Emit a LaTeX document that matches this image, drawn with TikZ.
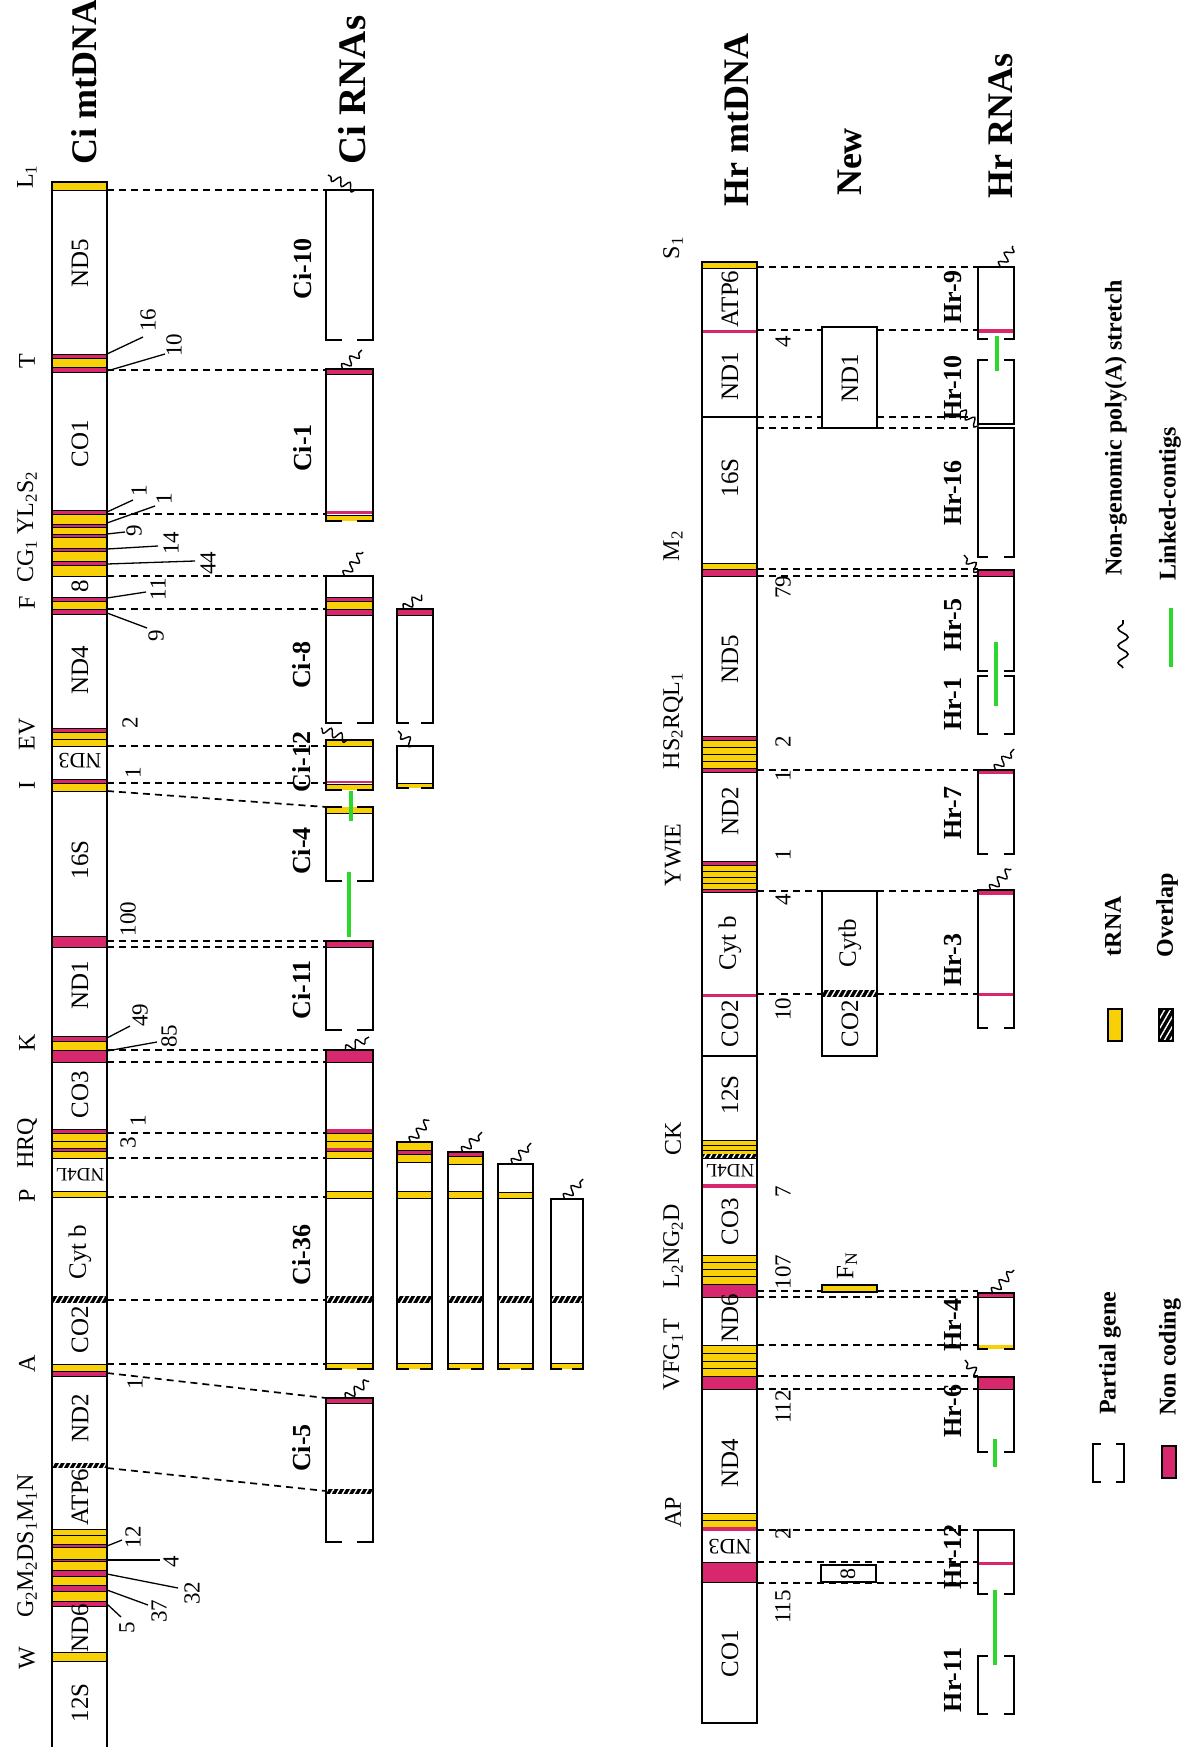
\documentclass[tikz,border=0pt]{standalone}
\usepackage{fontspec}
\setmainfont{Liberation Serif}
\usetikzlibrary{decorations.pathmorphing,patterns.meta}
\definecolor{ty}{RGB}{248,208,8}
\definecolor{nc}{RGB}{215,40,110}
\definecolor{lk}{RGB}{45,215,45}
\newcommand\zbd[5]{\filldraw[fill=#1,draw=black,line width=1pt] (#2,#4) rectangle (#3,#5);}
\newcommand\zbf[5]{\fill[#1] (#2,#4) rectangle (#3,#5);}
\newcommand\zht[4]{\fill[black] (#1,#3) rectangle (#2,#4);\fill[pattern={Lines[angle=60,distance=5pt,line width=1.4pt]},pattern color=white] (#1,#3) rectangle (#2,#4);}
\newcommand\zsd[4]{\draw[bx] (#1,#3) -- (#1,#4) (#2,#3) -- (#2,#4);}
\newcommand\zfe[3]{\draw[bx] (#1,#3) -- (#2,#3);}
\newcommand\zpe[4]{\draw[bx] (#1,#3) -- ++(#4,0) (#2,#3) -- ++(-#4,0);}
\newcommand\zdl[3]{\draw[dsh] (#1,#3) -- (#2,#3);}
\begin{document}
\begin{tikzpicture}[x=1pt,y=-1pt,
 gene/.style={font=\fontsize{25}{25}\selectfont, rotate=90, inner sep=0pt},
 geneinv/.style={font=\fontsize{22}{22}\selectfont, rotate=180, inner sep=0pt},
 trn/.style={font=\fontsize{24}{24}\selectfont, rotate=90, inner sep=0pt},
 num/.style={font=\fontsize{23}{23}\selectfont, rotate=90, inner sep=0pt},
 rna/.style={font=\bfseries\fontsize{26}{26}\selectfont, rotate=90, inner sep=0pt},
 ttl/.style={font=\bfseries\fontsize{36}{36}\selectfont, rotate=90, inner sep=0pt},
 leg/.style={font=\bfseries\fontsize{24}{24}\selectfont, rotate=90, inner sep=0pt},
 dsh/.style={dash pattern=on 7pt off 5pt, line width=1.7pt},
 ldr/.style={line width=1.3pt},
 bx/.style={line width=1.9pt, line cap=rect},
 pa/.style={decorate, decoration={snake, amplitude=4pt, segment length=11pt}, line width=1.4pt},
 lnk/.style={draw=lk, line width=4pt}]
\useasboundingbox (0,0) rectangle (1183,1747);
\clip (0,0) rectangle (1183,1747);
\fill[white] (0,0) rectangle (1183,1747);

% ================= Ci titles =================
\node[ttl] (tcimt) at (84,82) {Ci mtDNA};
\node[ttl,font=\bfseries\fontsize{39}{39}\selectfont] (tcirna) at (352,90) {Ci RNAs};

% ================= Ci dashed lines =================
\foreach \yy in {190,370,514,576,609,746,783,941,947,1050,1062,1133,1158,1197,1300,1364} {\zdl{107}{326}{\yy}}
\draw[dsh] (107,791) -- (326,807);
\draw[dsh] (107,1373) -- (326,1398);
\draw[dsh] (107,1468) -- (326,1491);

% ================= Ci mtDNA bar =================
\zbd{ty}{52}{107}{182}{191}
\zbd{nc}{52}{107}{354}{358}\zbd{ty}{52}{107}{358}{367}\zbd{nc}{52}{107}{367}{372}
\zbd{nc}{52}{107}{510}{514}\zbd{ty}{52}{107}{514}{524}\zbd{nc}{52}{107}{524}{527}\zbd{ty}{52}{107}{527}{534}\zbd{nc}{52}{107}{534}{537}\zbd{ty}{52}{107}{537}{548}\zbd{nc}{52}{107}{548}{551}\zbd{ty}{52}{107}{551}{561}\zbd{nc}{52}{107}{561}{565}\zbd{ty}{52}{107}{565}{576}
\zbd{nc}{52}{107}{597}{601}\zbd{ty}{52}{107}{601}{609}\zbd{nc}{52}{107}{609}{614}
\zbd{nc}{52}{107}{728}{732}\zbd{ty}{52}{107}{732}{739}\zbd{ty}{52}{107}{739}{746}
\zbd{nc}{52}{107}{779}{783}\zbd{ty}{52}{107}{783}{791}
\zbd{nc}{52}{107}{936}{947}
\zbd{nc}{52}{107}{1036}{1041}\zbd{ty}{52}{107}{1041}{1050}\zbd{nc}{52}{107}{1050}{1062}
\zbd{nc}{52}{107}{1129}{1133}\zbd{ty}{52}{107}{1133}{1141}\zbd{ty}{52}{107}{1141}{1148}\zbd{nc}{52}{107}{1148}{1151}\zbd{ty}{52}{107}{1151}{1158}
\zbd{ty}{52}{107}{1191}{1197}
\zht{52}{107}{1296}{1303}
\zbd{ty}{52}{107}{1364}{1371}\zbd{nc}{52}{107}{1371}{1376}
\zht{52}{107}{1463}{1468}
\zbd{ty}{52}{107}{1529}{1535}\zbd{ty}{52}{107}{1535}{1544}\zbd{nc}{52}{107}{1544}{1547}\zbd{ty}{52}{107}{1547}{1559}\zbd{nc}{52}{107}{1559}{1561}\zbd{ty}{52}{107}{1561}{1570}\zbd{nc}{52}{107}{1570}{1576}\zbd{ty}{52}{107}{1576}{1585}\zbd{nc}{52}{107}{1585}{1591}\zbd{ty}{52}{107}{1591}{1601}\zbd{nc}{52}{107}{1601}{1606}
\zbd{ty}{52}{107}{1652}{1661}
\draw[line width=2.2pt] (52,1760) -- (52,182) -- (107,182) -- (107,1760);

% Ci gene labels
\node[gene] (cg1) at (80,263) {ND5};
\node[gene] (cg2) at (80,444) {CO1};
\node[gene] (cg3) at (80,586) {8};
\node[gene] (cg4) at (80,670) {ND4};
\node[geneinv] (cg5) at (80,761) {ND3};
\node[gene] (cg6) at (80,860) {16S};
\node[gene] (cg7) at (80,985) {ND1};
\node[gene] (cg8) at (80,1095) {CO3};
\node[geneinv,font=\fontsize{19}{19}\selectfont] (cg9) at (80,1175) {ND4L};
\node[gene] (cg10) at (80,1252) {Cyt b};
\node[gene] (cg11) at (80,1330) {CO2};
\node[gene] (cg12) at (80,1418) {ND2};
\node[gene] (cg13) at (80,1497) {ATP6};
\node[gene] (cg14) at (80,1628) {ND6};
\node[gene] (cg15) at (80,1703) {12S};

% Ci tRNA labels
\node[trn] (ct1) at (27,177) {L\textsubscript{1}};
\node[trn] (ct2) at (27,361) {T};
\node[trn] (ct3) at (27,527) {CG\textsubscript{1} YL\textsubscript{2}S\textsubscript{2}};
\node[trn] (ct4) at (27,603) {F};
\node[trn] (ct5) at (27,734) {EV};
\node[trn] (ct6) at (27,785) {I};
\node[trn] (ct7) at (27,1043) {K};
\node[trn] (ct8) at (27,1143) {HRQ};
\node[trn] (ct9) at (27,1196) {P};
\node[trn] (ct10) at (27,1364) {A};
\node[trn] (ct11) at (27,1546) {G\textsubscript{2}M\textsubscript{2}DS\textsubscript{1}M\textsubscript{1}N};
\node[trn] (ct12) at (27,1658) {W};

% Ci numbers and leaders
\node[num] (cn1) at (148,320) {16}; \draw[ldr] (107,354) -- (143,337);
\node[num] (cn2) at (174,345) {10}; \draw[ldr] (107,371) -- (165,354);
\node[num] (cn3) at (139,491) {1}; \draw[ldr] (107,512) -- (133,500);
\node[num] (cn4) at (164,499) {1}; \draw[ldr] (107,523) -- (155,506);
\node[num] (cn5) at (134,531) {9}; \draw[ldr] (107,534) -- (125,532);
\node[num] (cn6) at (171,543) {14}; \draw[ldr] (107,549) -- (158,546);
\node[num] (cn7) at (208,563) {44}; \draw[ldr] (107,564) -- (195,561);
\node[num] (cn8) at (158,589) {11}; \draw[ldr] (107,598) -- (146,592);
\node[num] (cn9) at (156,636) {9}; \draw[ldr] (107,613) -- (147,628);
\node[num] (cn10) at (130,723) {2};
\node[num] (cn11) at (133,773) {1};
\node[num] (cn12) at (128,919) {100};
\node[num] (cn13) at (140,1015) {49}; \draw[ldr] (107,1038) -- (130,1026);
\node[num] (cn14) at (169,1036) {85}; \draw[ldr] (107,1051) -- (157,1042);
\node[num] (cn15) at (138,1121) {1};
\node[num] (cn16) at (128,1143) {3};
\node[num] (cn17) at (135,1384) {1};
\node[num] (cn18) at (133,1537) {12}; \draw[ldr] (107,1546) -- (122,1540);
\node[num] (cn19) at (171,1562) {4}; \draw[ldr] (107,1560) -- (160,1560);
\node[num] (cn20) at (192,1593) {32}; \draw[ldr] (107,1574) -- (178,1588);
\node[num] (cn21) at (159,1611) {37}; \draw[ldr] (107,1590) -- (148,1605);
\node[num] (cn22) at (127,1628) {5}; \draw[ldr] (107,1604) -- (121,1617);

% ================= Ci RNAs =================
% Ci-10
\zsd{326}{373}{190}{340}\zfe{326}{373}{190}\zpe{326}{373}{340}{15}
\draw[pa] (356,190) -- (328,175);
\node[rna] (r1) at (303,269) {Ci-10};
% Ci-1
\zbd{nc}{326}{373}{369}{374}\zbf{nc}{326}{373}{511}{514}\zbf{ty}{326}{373}{515}{521}
\draw[line width=1pt] (326,515) -- (373,515);
\zsd{326}{373}{369}{521}\zfe{326}{373}{369}\zpe{326}{373}{521}{15}
\draw[pa] (342,369) -- (362,350);
\node[rna] (r2) at (303,448) {Ci-1};
% Ci-8
\zbd{nc}{326}{373}{597}{601}\zbd{ty}{326}{373}{601}{609}\zbd{nc}{326}{373}{609}{615}
\zsd{326}{373}{576}{723}\zfe{326}{373}{576}\zpe{326}{373}{723}{15}
\draw[pa] (344,576) -- (363,552);
\node[rna] (r3) at (302,665) {Ci-8};
% Ci-8 second
\zbd{nc}{397}{433}{609}{615}
\zsd{397}{433}{609}{723}\zfe{397}{433}{609}\zpe{397}{433}{723}{11}
\draw[pa] (403,609) -- (422,595);
% Ci-12
\zbd{ty}{326}{373}{740}{746}\zbf{nc}{326}{373}{781}{783}\zbf{ty}{326}{373}{784}{790}
\draw[line width=1pt] (326,784) -- (373,784);
\zsd{326}{373}{740}{790}\zfe{326}{373}{740}\zpe{326}{373}{790}{15}
\draw[pa] (348,740) -- (321,728);
\node[rna] (r4) at (302,762) {Ci-12};
% Ci-12 second
\zbf{ty}{397}{433}{783}{788}\draw[line width=1pt] (397,783) -- (433,783);
\zsd{397}{433}{746}{788}\zfe{397}{433}{746}\zpe{397}{433}{788}{11}
\draw[pa] (414,746) -- (398,731);
% Ci-4
\zbf{ty}{326}{373}{807}{813}\draw[line width=1pt] (326,813) -- (373,813);
\zsd{326}{373}{807}{881}\zpe{326}{373}{807}{15}\zpe{326}{373}{881}{15}
\node[rna] (r5) at (302,851) {Ci-4};
% Ci-11
\zbd{nc}{326}{373}{941}{947}
\zsd{326}{373}{941}{1030}\zfe{326}{373}{941}\zpe{326}{373}{1030}{15}
\node[rna] (r6) at (302,990) {Ci-11};
% linked contigs Ci
\draw[lnk] (351,791) -- (351,821);
\draw[lnk] (349,872) -- (349,937);
% Ci-36
\zbd{nc}{326}{373}{1050}{1062}
\zbf{nc}{326}{373}{1129}{1133}\zbd{ty}{326}{373}{1133}{1141}\zbd{ty}{326}{373}{1141}{1148}\zbf{nc}{326}{373}{1148}{1151}\zbd{ty}{326}{373}{1151}{1158}
\zbd{ty}{326}{373}{1191}{1198}
\zht{326}{373}{1296}{1303}
\zbf{ty}{326}{373}{1363}{1369}\draw[line width=1pt] (326,1363) -- (373,1363);
\zsd{326}{373}{1050}{1369}\zfe{326}{373}{1050}\zpe{326}{373}{1369}{15}
\draw[pa] (345,1050) -- (369,1037);
\node[rna] (r7) at (302,1255) {Ci-36};
% box A
\zbd{ty}{397}{432}{1142}{1150}\zbd{nc}{397}{432}{1150}{1154}\zbd{ty}{397}{432}{1154}{1162}
\zbd{ty}{397}{432}{1191}{1198}\zht{397}{432}{1296}{1303}
\zbf{ty}{397}{432}{1363}{1369}\draw[line width=1pt] (397,1363) -- (432,1363);
\zsd{397}{432}{1142}{1369}\zfe{397}{432}{1142}\zpe{397}{432}{1369}{11}
\draw[pa] (410,1142) -- (429,1120);
% box B
\zbd{nc}{448}{483}{1152}{1156}\zbd{ty}{448}{483}{1156}{1164}
\zbd{ty}{448}{483}{1191}{1198}\zht{448}{483}{1296}{1303}
\zbf{ty}{448}{483}{1363}{1369}\draw[line width=1pt] (448,1363) -- (483,1363);
\zsd{448}{483}{1152}{1369}\zfe{448}{483}{1152}\zpe{448}{483}{1369}{11}
\draw[pa] (462,1152) -- (482,1132);
% box C
\zbd{ty}{498}{533}{1192}{1198}\zht{498}{533}{1296}{1303}
\zbf{ty}{498}{533}{1363}{1369}\draw[line width=1pt] (498,1363) -- (533,1363);
\zsd{498}{533}{1164}{1369}\zfe{498}{533}{1164}\zpe{498}{533}{1369}{11}
\draw[pa] (512,1164) -- (531,1143);
% box D
\zht{551}{583}{1296}{1303}
\zbf{ty}{551}{583}{1363}{1369}\draw[line width=1pt] (551,1363) -- (583,1363);
\zsd{551}{583}{1199}{1369}\zfe{551}{583}{1199}\zpe{551}{583}{1369}{10}
\draw[pa] (564,1199) -- (583,1179);
% Ci-5
\zbd{nc}{326}{373}{1398}{1403}\zht{326}{373}{1489}{1494}
\zsd{326}{373}{1398}{1542}\zfe{326}{373}{1398}\zpe{326}{373}{1542}{15}
\draw[pa] (345,1398) -- (369,1381);
\node[rna] (r8) at (302,1448) {Ci-5};

% ================= Hr titles =================
\node[ttl] (thrmt) at (737,120) {Hr mtDNA};
\node[ttl] (tnew) at (850,162) {New};
\node[ttl] (thrrna) at (1001,126) {Hr RNAs};

% ================= Hr dashed lines =================
\foreach \yy in {267,330,569,576,770,891,994,1291,1297,1345,1376,1389,1530,1562,1583} {\zdl{757}{978}{\yy}}
\zdl{757}{972}{417}\zdl{757}{972}{428}

% ================= New boxes =================
\filldraw[fill=white,draw=black,line width=1.9pt] (822,327) rectangle (877,428);
\node[gene] (nw1) at (850,378) {ND1};
\filldraw[fill=white,draw=black,line width=1.9pt] (822,891) rectangle (877,1056);
\zht{822}{877}{990}{997}
\draw[line width=1.9pt] (822,891) rectangle (877,1056);
\node[gene] (nw2) at (850,943) {Cytb};
\node[gene] (nw3) at (850,1024) {CO2};
\filldraw[fill=ty,draw=black,line width=1.6pt] (822,1285) rectangle (877,1292);
\node[gene] (nw4) at (847,1266) {F\textsubscript{N}};
\filldraw[fill=white,draw=black,line width=1.6pt] (821,1565) rectangle (876,1582);
\node[gene,font=\fontsize{22}{22}\selectfont] (nw5) at (848,1574) {8};

% ================= Hr mtDNA bar =================
\fill[white] (702,262) rectangle (757,1723);
\zbd{ty}{702}{757}{262}{268}
\zbf{nc}{702}{757}{330}{333}
\draw[line width=1.2pt] (702,417) -- (757,417);
\zbd{ty}{702}{757}{563}{569}\zbd{nc}{702}{757}{569}{576}
\zbd{nc}{702}{757}{736}{740}\zbd{ty}{702}{757}{740}{747}\zbd{ty}{702}{757}{747}{754}\zbd{ty}{702}{757}{754}{761}\zbd{ty}{702}{757}{761}{768}\zbd{nc}{702}{757}{768}{772}
\zbd{nc}{702}{757}{861}{865}\zbd{ty}{702}{757}{865}{871}\zbd{ty}{702}{757}{871}{877}\zbd{ty}{702}{757}{877}{883}\zbd{ty}{702}{757}{883}{889}\zbd{nc}{702}{757}{889}{892}
\zbf{nc}{702}{757}{994}{997}
\draw[line width=1.2pt] (702,1056) -- (757,1056);
\zbd{ty}{702}{757}{1140}{1145}\zbd{ty}{702}{757}{1145}{1150}\zbd{ty}{702}{757}{1150}{1154}
\zht{702}{757}{1154}{1158}\draw[line width=1pt] (702,1158) -- (757,1158);
\zbf{nc}{702}{757}{1184}{1188}
\zbd{ty}{702}{757}{1255}{1262}\zbd{ty}{702}{757}{1262}{1269}\zbd{ty}{702}{757}{1269}{1276}\zbd{ty}{702}{757}{1276}{1284}\zbd{nc}{702}{757}{1284}{1297}
\zbd{ty}{702}{757}{1345}{1353}\zbd{ty}{702}{757}{1353}{1361}\zbd{ty}{702}{757}{1361}{1368}\zbd{ty}{702}{757}{1368}{1376}\zbd{nc}{702}{757}{1376}{1389}
\zbd{ty}{702}{757}{1513}{1520}\zbd{ty}{702}{757}{1520}{1527}\zbf{nc}{702}{757}{1527}{1531}
\zbd{nc}{702}{757}{1562}{1582}
\draw[line width=2.2pt] (702,262) rectangle (757,1723);

% Hr gene labels
\node[gene] (hg1) at (730,299) {ATP6};
\node[gene] (hg2) at (730,376) {ND1};
\node[gene] (hg3) at (730,478) {16S};
\node[gene] (hg4) at (730,659) {ND5};
\node[gene] (hg5) at (730,811) {ND2};
\node[gene] (hg6) at (730,943) {Cyt b};
\node[gene] (hg7) at (730,1024) {CO2};
\node[gene] (hg8) at (730,1095) {12S};
\node[geneinv,font=\fontsize{19}{19}\selectfont] (hg9) at (730,1171) {ND4L};
\node[gene] (hg10) at (730,1222) {CO3};
\node[gene] (hg11) at (730,1318) {ND6};
\node[gene] (hg12) at (730,1463) {ND4};
\node[geneinv] (hg13) at (730,1547) {ND3};
\node[gene] (hg14) at (730,1654) {CO1};

% Hr tRNA labels
\node[trn] (ht1) at (673,248) {S\textsubscript{1}};
\node[trn] (ht2) at (673,546) {M\textsubscript{2}};
\node[trn] (ht3) at (673,721) {HS\textsubscript{2}RQL\textsubscript{1}};
\node[trn] (ht4) at (673,855) {YWIE};
\node[trn] (ht5) at (673,1139) {CK};
\node[trn] (ht6) at (673,1246) {L\textsubscript{2}NG\textsubscript{2}D};
\node[trn] (ht7) at (673,1355) {VFG\textsubscript{1}T};
\node[trn] (ht8) at (673,1512) {AP};

% Hr numbers
\node[num] (hn1) at (783,342) {4};
\node[num] (hn2) at (783,587) {79};
\node[num] (hn3) at (783,742) {2};
\node[num] (hn4) at (783,776) {1};
\node[num] (hn5) at (783,855) {1};
\node[num] (hn6) at (783,900) {4};
\node[num] (hn7) at (783,1009) {10};
\node[num] (hn8) at (783,1192) {7};
\node[num] (hn9) at (783,1272) {107};
\node[num] (hn10) at (783,1407) {112};
\node[num] (hn11) at (783,1534) {2};
\node[num] (hn12) at (783,1607) {115};

% ================= Hr RNAs =================
% Hr-9
\zbf{nc}{978}{1014}{329}{333}
\zsd{978}{1014}{267}{339}\zfe{978}{1014}{267}\zpe{978}{1014}{339}{9}
\draw[pa] (1000,267) -- (1013,246);
\node[rna] (h1) at (953,297) {Hr-9};
% Hr-10
\zsd{978}{1014}{360}{424}\zpe{978}{1014}{360}{9}\zfe{978}{1014}{424}
\node[rna] (h2) at (953,388) {Hr-10};
% Hr-16
\zsd{978}{1014}{428}{557}\zfe{978}{1014}{428}\zpe{978}{1014}{557}{9}
\draw[pa] (979,426) -- (961,411);
\node[rna] (h3) at (953,493) {Hr-16};
% Hr-5
\zbd{nc}{978}{1014}{570}{576}
\zsd{978}{1014}{570}{671}\zfe{978}{1014}{570}\zpe{978}{1014}{671}{9}
\draw[pa] (979,572) -- (964,555);
\node[rna] (h4) at (953,625) {Hr-5};
% Hr-1
\zsd{978}{1014}{676}{734}\zpe{978}{1014}{676}{9}\zpe{978}{1014}{734}{9}
\node[rna] (h5) at (953,704) {Hr-1};
% Hr-7
\zbf{nc}{978}{1014}{770}{774}
\zsd{978}{1014}{770}{854}\zfe{978}{1014}{770}\zpe{978}{1014}{854}{9}
\draw[pa] (995,770) -- (1014,749);
\node[rna] (h6) at (953,813) {Hr-7};
% Hr-3
\zbf{nc}{978}{1014}{890}{895}\zbf{nc}{978}{1014}{993}{996}
\zsd{978}{1014}{890}{1028}\zfe{978}{1014}{890}\zpe{978}{1014}{1028}{9}
\draw[pa] (990,890) -- (1011,869);
\node[rna] (h7) at (953,960) {Hr-3};
% Hr-4
\zbd{nc}{978}{1014}{1293}{1297}\zbf{ty}{978}{1014}{1345}{1349}
\zsd{978}{1014}{1293}{1349}\zfe{978}{1014}{1293}\zpe{978}{1014}{1349}{9}
\draw[pa] (992,1293) -- (1014,1270);
\node[rna] (h8) at (953,1325) {Hr-4};
% Hr-6
\zbd{nc}{978}{1014}{1377}{1389}
\zsd{978}{1014}{1377}{1452}\zfe{978}{1014}{1377}\zpe{978}{1014}{1452}{9}
\draw[pa] (979,1377) -- (965,1360);
\node[rna] (h9) at (953,1411) {Hr-6};
% Hr-12
\zbf{nc}{978}{1014}{1562}{1565}
\zsd{978}{1014}{1530}{1594}\zfe{978}{1014}{1530}\zpe{978}{1014}{1594}{9}
\node[rna] (h10) at (953,1557) {Hr-12};
% Hr-11
\zsd{978}{1014}{1656}{1714}\zpe{978}{1014}{1656}{9}\zpe{978}{1014}{1714}{9}
\node[rna] (h11) at (953,1680) {Hr-11};
% linked contigs Hr
\draw[lnk] (997,336) -- (997,371);
\draw[lnk] (996,642) -- (996,706);
\draw[lnk] (995,1439) -- (995,1467);
\draw[lnk] (995,1590) -- (995,1665);

% ================= Legend =================
\node[leg] (lg1) at (1116,428) {Non-genomic poly(A) stretch};
\node[leg] (lg2) at (1170,504) {Linked-contigs};
\draw[decorate, decoration={snake, amplitude=5pt, segment length=17pt}, line width=1.6pt] (1123,668) -- (1123,620);
\draw[lnk] (1171,608) -- (1171,667);
\node[leg] (lg3) at (1113,926) {tRNA};
\node[leg] (lg4) at (1167,915) {Overlap};
\filldraw[fill=ty,draw=black,line width=1.6pt] (1108,1009) rectangle (1122,1041);
\zht{1159}{1173}{1009}{1041}
\draw[line width=1.6pt] (1159,1009) rectangle (1173,1041);
\node[leg] (lg5) at (1110,1353) {Partial gene};
\node[leg] (lg6) at (1170,1357) {Non coding};
\draw[bx] (1100,1444) -- (1093,1444) -- (1093,1482) -- (1100,1482);
\draw[bx] (1117,1444) -- (1124,1444) -- (1124,1482) -- (1117,1482);
\filldraw[fill=nc,draw=black,line width=1.6pt] (1162,1446) rectangle (1176,1478);
\end{tikzpicture}
\end{document}
